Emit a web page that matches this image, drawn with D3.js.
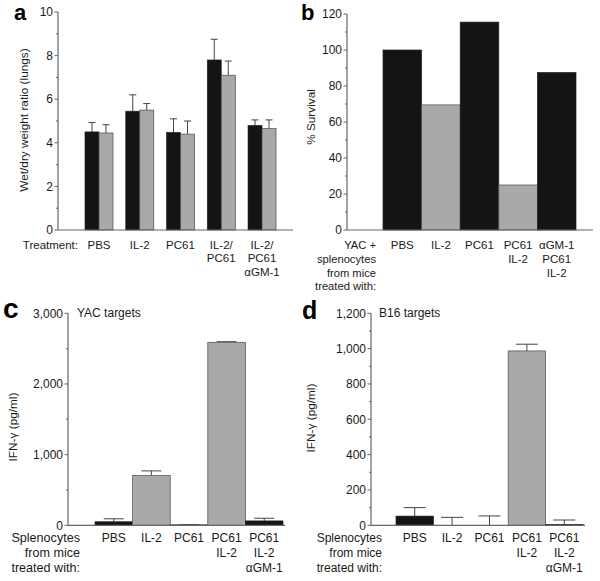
<!DOCTYPE html>
<html><head><meta charset="utf-8">
<script src="https://cdn.jsdelivr.net/npm/d3@7"></script>
<style>body{margin:0;background:#fff}svg{display:block}text{font-family:"Liberation Sans",Arial,sans-serif;fill:#1a1a1a}</style>
</head><body>
<svg id="c" width="600" height="581"></svg>
<script>
// Panel a
const aCats = [["PBS"],["IL-2"],["PC61"],["IL-2/","PC61"],["IL-2/","PC61","αGM-1"]];
const aBlack = [4.5, 5.45, 4.48, 7.8, 4.8];
const aBlackErr = [4.93, 6.2, 5.1, 8.75, 5.05];
const aGray = [4.45, 5.5, 4.4, 7.1, 4.65];
const aGrayErr = [4.83, 5.8, 5.0, 7.75, 5.05];
const aTicks = [0,2,4,6,8,10];
const aMinor = [1,3,5,7,9];
// Panel b
const bCats = [["PBS"],["IL-2"],["PC61"],["PC61","IL-2"],["αGM-1","PC61","IL-2"]];
const bVals = [100, 69.5, 115.5, 25, 87.5];
const bColors = ["k","g","k","g","k"];
const bTicks = [0,20,40,60,80,100,120];
const bMinor = [10,30,50,70,90,110];
// Panel c
const cCats = [["PBS"],["IL-2"],["PC61"],["PC61","IL-2"],["PC61","IL-2","αGM-1"]];
const cVals = [50, 705, 8, 2590, 62];
const cErr = [92, 770, 10, 2598, 100];
const cColors = ["k","g","g","g","k"];
const cTicks = [0,1000,2000,3000];
const cTickLabels = ["0","1,000","2,000","3,000"];
const cMinor = [500,1500,2500];
// Panel d
const dCats = [["PBS"],["IL-2"],["PC61"],["PC61","IL-2"],["PC61","IL-2","αGM-1"]];
const dVals = [52, 0, 0, 987, 5];
const dErr = [100, 45, 53, 1025, 30];
const dColors = ["k","g","g","g","k"];
const dTicks = [0,200,400,600,800,1000,1200];
const dTickLabels = ["0","200","400","600","800","1,000","1,200"];
const dMinor = [100,300,500,700,900,1100];

const svg = d3.select("#c");
const BLACK = "#141414", GRAY = "#a9a9a9", STROKE = "#4a4a4a", AX = "#666";

function yAxis(g, y, x0, ticks, labels, minor, fs, labelGap) {
  g.append("line").attr("x1", x0).attr("x2", x0).attr("y1", y.range()[1]).attr("y2", y.range()[0])
    .attr("stroke", AX).attr("stroke-width", 1.2);
  ticks.forEach((t, i) => {
    g.append("line").attr("x1", x0 - 3.5).attr("x2", x0).attr("y1", y(t)).attr("y2", y(t)).attr("stroke", AX);
    g.append("text").attr("x", x0 - labelGap).attr("y", y(t)).attr("dy", "0.35em")
      .attr("text-anchor", "end").attr("font-size", fs).text(labels[i]);
  });
  minor.forEach(t => {
    g.append("line").attr("x1", x0 - 2).attr("x2", x0).attr("y1", y(t)).attr("y2", y(t)).attr("stroke", AX);
  });
}
function xAxisLine(g, y0, x0, x1) {
  g.append("line").attr("x1", x0).attr("x2", x1).attr("y1", y0).attr("y2", y0).attr("stroke", AX).attr("stroke-width", 1.2);
}
function catLabels(g, x, cats, base, step, fs) {
  cats.forEach((lines, i) => {
    lines.forEach((s, j) => {
      g.append("text").attr("x", x(i) + x.bandwidth() / 2).attr("y", base + j * step)
        .attr("text-anchor", "middle").attr("font-size", fs).text(s);
    });
  });
}
function leftLabels(g, xr, lines, base, step, fs) {
  lines.forEach((s, j) => g.append("text").attr("x", xr).attr("y", base + j * step)
    .attr("text-anchor", "end").attr("font-size", fs).text(s));
}
function yTitle(g, cx, cy, s, fs) {
  g.append("text").attr("transform", `translate(${cx},${cy}) rotate(-90)`).attr("text-anchor", "middle")
    .attr("dy", "0.35em").attr("font-size", fs).text(s);
}
function errBar(g, cx, yTop, yErr, hw) {
  g.append("line").attr("x1", cx).attr("x2", cx).attr("y1", yTop).attr("y2", yErr).attr("stroke", "#444");
  g.append("line").attr("x1", cx - hw).attr("x2", cx + hw).attr("y1", yErr).attr("y2", yErr).attr("stroke", "#444");
}
function panelLetter(x, y, s, fs) {
  svg.append("text").attr("x", x).attr("y", y).attr("font-size", fs).attr("font-weight", "bold")
    .style("fill", "#000").text(s);
}

// ---- Panel a ----
{
  const g = svg.append("g");
  const y = d3.scaleLinear().domain([0, 10]).range([230, 12]);
  const x = d3.scaleBand().domain(d3.range(5)).range([78.6, 282.4]);
  const sub = d3.scaleBand().domain([0, 1]).range([0, 28]);
  const off = (x.bandwidth() - 28) / 2;
  aBlack.forEach((v, i) => {
    const bx = x(i) + off + sub(0);
    errBar(g, bx + sub.bandwidth() / 2, y(v), y(aBlackErr[i]), 3.5);
    g.append("rect").attr("x", bx).attr("y", y(v)).attr("width", sub.bandwidth()).attr("height", y(0) - y(v))
      .attr("fill", BLACK).attr("stroke", "#222").attr("stroke-width", 0.6);
  });
  aGray.forEach((v, i) => {
    const bx = x(i) + off + sub(1);
    errBar(g, bx + sub.bandwidth() / 2, y(v), y(aGrayErr[i]), 3.5);
    g.append("rect").attr("x", bx).attr("y", y(v)).attr("width", sub.bandwidth()).attr("height", y(0) - y(v))
      .attr("fill", GRAY).attr("stroke", STROKE).attr("stroke-width", 0.7);
  });
  xAxisLine(g, 230, 58, 293);
  yAxis(g, y, 58, aTicks, aTicks.map(String), aMinor, 12, 5);
  yTitle(g, 24, 120, "Wet/dry weight ratio (lungs)", 11.8);
  catLabels(g, x, aCats, 249, 13.3, 11.5);
  leftLabels(g, 78, ["Treatment:"], 249, 13.3, 11.5);
  panelLetter(14, 20, "a", 22);
}
// ---- Panel b ----
{
  const g = svg.append("g");
  const y = d3.scaleLinear().domain([0, 120]).range([230, 14]);
  const x = d3.scaleBand().domain(d3.range(5)).range([383, 576]);
  bVals.forEach((v, i) => {
    g.append("rect").attr("x", x(i)).attr("y", y(v)).attr("width", x.bandwidth()).attr("height", y(0) - y(v))
      .attr("fill", bColors[i] === "k" ? BLACK : GRAY)
      .attr("stroke", bColors[i] === "k" ? "#222" : STROKE).attr("stroke-width", 0.7);
  });
  xAxisLine(g, 230, 347, 593);
  yAxis(g, y, 347, bTicks, bTicks.map(String), bMinor, 12, 5);
  yTitle(g, 311, 117, "% Survival", 11.8);
  catLabels(g, x, bCats, 249, 13.8, 11.5);
  leftLabels(g, 376, ["YAC +", "splenocytes", "from mice", "treated with:"], 249, 13.8, 11.2);
  panelLetter(301, 20, "b", 22);
}
// ---- Panel c ----
{
  const g = svg.append("g");
  const y = d3.scaleLinear().domain([0, 3000]).range([525.3, 313.3]);
  const x = d3.scaleBand().domain(d3.range(5)).range([95, 283]);
  cVals.forEach((v, i) => {
    const cx = x(i) + x.bandwidth() / 2;
    errBar(g, cx, y(v), y(cErr[i]), 10);
    g.append("rect").attr("x", x(i)).attr("y", y(v)).attr("width", x.bandwidth()).attr("height", y(0) - y(v))
      .attr("fill", cColors[i] === "k" ? BLACK : GRAY)
      .attr("stroke", cColors[i] === "k" ? "#222" : STROKE).attr("stroke-width", 0.7);
  });
  xAxisLine(g, 525.3, 68, 285);
  yAxis(g, y, 68, cTicks, cTickLabels, cMinor, 12, 5);
  yTitle(g, 13, 427, "IFN-γ (pg/ml)", 11.8);
  catLabels(g, x, cCats, 542, 15, 12);
  leftLabels(g, 80, ["Splenocytes", "from mice", "treated with:"], 542, 15, 12.6);
  g.append("text").attr("x", 77).attr("y", 317).attr("font-size", 12).text("YAC targets");
  panelLetter(3, 318, "c", 28);
}
// ---- Panel d ----
{
  const g = svg.append("g");
  const y = d3.scaleLinear().domain([0, 1200]).range([525.3, 313.3]);
  const x = d3.scaleBand().domain(d3.range(5)).range([396, 583]);
  dVals.forEach((v, i) => {
    const cx = x(i) + x.bandwidth() / 2;
    errBar(g, cx, y(v), y(dErr[i]), 11);
    if (v > 0) g.append("rect").attr("x", x(i)).attr("y", y(v)).attr("width", x.bandwidth()).attr("height", y(0) - y(v))
      .attr("fill", dColors[i] === "k" ? BLACK : GRAY)
      .attr("stroke", dColors[i] === "k" ? "#222" : STROKE).attr("stroke-width", 0.7);
  });
  xAxisLine(g, 525.3, 371, 585);
  yAxis(g, y, 371, dTicks, dTickLabels, dMinor, 12, 5);
  yTitle(g, 311, 418, "IFN-γ (pg/ml)", 11.8);
  catLabels(g, x, dCats, 542, 15, 12);
  leftLabels(g, 382, ["Splenocytes", "from mice", "treated with:"], 542, 15, 12);
  g.append("text").attr("x", 379).attr("y", 317).attr("font-size", 12).text("B16 targets");
  panelLetter(302, 319, "d", 25);
}
</script>
</body></html>
